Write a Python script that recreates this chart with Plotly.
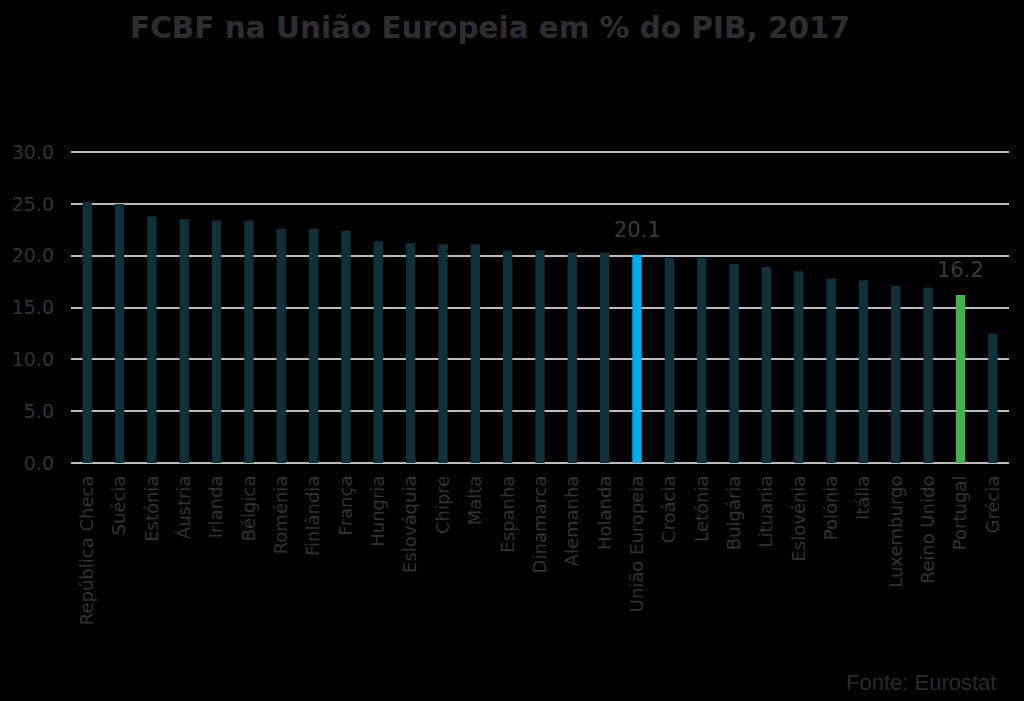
import plotly.graph_objects as go

countries = ["República Checa", "Suécia", "Estónia", "Áustria", "Irlanda", "Bélgica",
             "Roménia", "Finlândia", "França", "Hungria", "Eslováquia", "Chipre", "Malta",
             "Espanha", "Dinamarca", "Alemanha", "Holanda", "União Europeia", "Croácia",
             "Letónia", "Bulgária", "Lituania", "Eslovénia", "Polónia", "Itália",
             "Luxemburgo", "Reino Unido", "Portugal", "Grécia"]
values = [25.2, 25.0, 23.8, 23.5, 23.4, 23.4, 22.6, 22.6, 22.4, 21.4, 21.2, 21.1, 21.1,
          20.5, 20.5, 20.3, 20.3, 20.1, 19.8, 19.8, 19.2, 18.9, 18.5, 17.8, 17.6,
          17.1, 16.9, 16.2, 12.5]
highlight = {"União Europeia": "#00aeef", "Portugal": "#3db54a"}
base_color = "#10303c"
tick_vals = [0, 5, 10, 15, 20, 25, 30]
tick_text = ["0.0", "5.0", "10.0", "15.0", "20.0", "25.0", "30.0"]

colors = [highlight.get(c, base_color) for c in countries]

fig = go.Figure(go.Bar(
    x=countries, y=values, marker_color=colors, marker_line_width=0,
    hoverinfo="skip",
))

annotations = [
    dict(x=c, y=v, xref="x", yref="y", text=f"{v:.1f}", showarrow=False,
         xanchor="center", yanchor="bottom", yshift=11,
         font=dict(family="DejaVu Sans", size=21, color="#3a3a3a"))
    for c, v in zip(countries, values) if c in highlight
]
annotations.append(dict(text="Fonte: Eurostat", xref="paper", yref="paper",
                        x=0.988, y=-0.70, xanchor="right", yanchor="middle",
                        showarrow=False,
                        font=dict(family="Liberation Sans", size=22, color="#2a2a2a")))

fig.update_layout(
    width=1024, height=701,
    paper_bgcolor="black", plot_bgcolor="black",
    margin=dict(l=71, r=15, t=150, b=238),
    bargap=0.71,
    showlegend=False,
    title=dict(text="<b>FCBF na União Europeia em % do PIB, 2017</b>",
               x=0.127, xanchor="left", y=0.96, yanchor="middle",
               font=dict(family="DejaVu Sans", size=29.5, color="#2e2e2e")),
    xaxis=dict(tickangle=-90, showgrid=False, ticks="", showline=False,
               ticklabelstandoff=8,
               tickfont=dict(family="DejaVu Sans", size=18, color="#333333")),
    yaxis=dict(range=[0, 30.2], tickvals=tick_vals, ticktext=tick_text,
               showgrid=True, gridcolor="#bdbdbd", gridwidth=1.5,
               zeroline=True, zerolinecolor="#bdbdbd", zerolinewidth=1.5,
               ticks="", ticklabelstandoff=16,
               tickfont=dict(family="DejaVu Sans", size=19, color="#333333")),
    annotations=annotations,
)

fig.write_html("out.html", config={"displayModeBar": False},
               post_script="document.body.style.margin='0';document.body.style.background='black';")
